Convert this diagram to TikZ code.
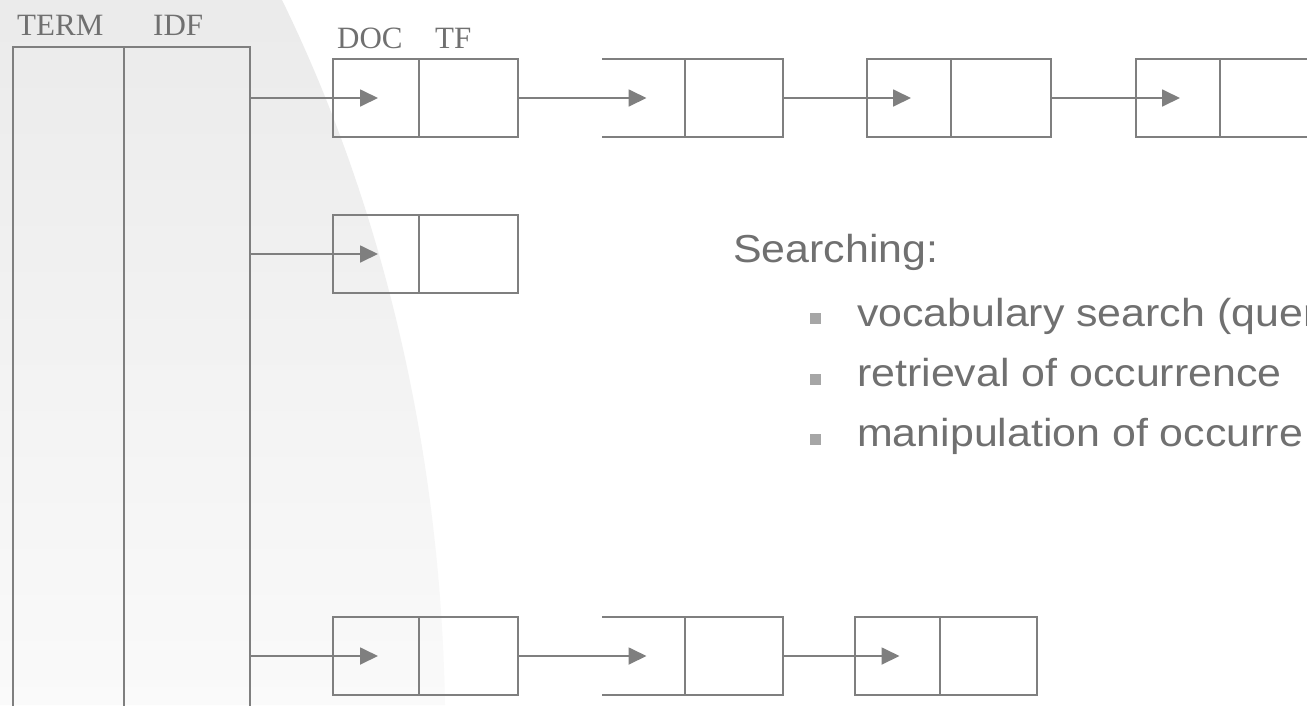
\documentclass[tikz,border=0pt]{standalone}
\usepackage{fontspec}
\usetikzlibrary{arrows.meta}
\newfontfamily\labelfont{Liberation Serif}
\newfontfamily\bodyfont[FakeStretch=1.1]{Liberation Sans}
\definecolor{linegray}{HTML}{7F7F7F}
\definecolor{textgray}{HTML}{707070}
\definecolor{bulletgray}{HTML}{A6A6A6}
\tikzset{
  cellbox/.style={draw=linegray, line width=1.8pt, minimum width=#1, minimum height=78pt,
    inner sep=0pt, outer sep=0pt, anchor=north west},
  openbox/.style={minimum width=#1, minimum height=78pt, inner sep=0pt, outer sep=0pt, anchor=north west},
  colbox/.style={draw=linegray, line width=1.8pt, minimum width=#1, minimum height=690pt,
    inner sep=0pt, outer sep=0pt, anchor=north west},
  edge/.style={draw=linegray, line width=1.8pt},
  arr/.style={draw=linegray, line width=1.8pt, -{Triangle[length=18pt,width=17pt]}},
  hdr/.style={anchor=base west, inner sep=0pt, text=textgray, font=\labelfont\fontsize{31}{36}\selectfont},
  body/.style={anchor=base west, inner sep=0pt, text=textgray, font=\bodyfont\fontsize{39}{44}\selectfont},
  bullet/.style={fill=bulletgray, minimum size=11pt, inner sep=0pt},
}
\begin{document}
\begin{tikzpicture}[x=1pt,y=-1pt]
\useasboundingbox (0,0) rectangle (1307,705);
\clip (0,0) rectangle (1307,705);
\fill[white] (0,0) rectangle (1307,705);
% background band
\shade[top color=black!8, bottom color=black!2]
  (0,0) -- (282,0) .. controls (370,180) and (440,420) .. (445,705) -- (0,705) -- cycle;

% headers
\node[hdr] (hterm) at (17,35) {TERM};
\node[hdr] (hidf) at (153,35) {IDF};
\node[hdr] (hdoc) at (337,48) {DOC};
\node[hdr] (htf) at (435,48) {TF};

% vocabulary table
\node[colbox=111pt] (term) at (13,47) {};
\node[colbox=126pt] (idf) at (124,47) {};

% row 1
\node[cellbox=86pt] (d11) at (333,59) {};
\node[cellbox=99pt] (t11) at (419,59) {};
\node[openbox=83pt] (d12) at (602,59) {};
\node[cellbox=98pt] (t12) at (685,59) {};
\node[cellbox=84pt] (d13) at (867,59) {};
\node[cellbox=100pt] (t13) at (951,59) {};
\node[cellbox=84pt] (d14) at (1136,59) {};
\node[cellbox=99pt] (t14) at (1220,59) {};
\draw[edge] (d12.north west) -- (d12.north east);
\draw[edge] (d12.south west) -- (d12.south east);

% row 2
\node[cellbox=86pt] (d21) at (333,215) {};
\node[cellbox=99pt] (t21) at (419,215) {};

% row 3
\node[cellbox=86pt] (d31) at (333,617) {};
\node[cellbox=99pt] (t31) at (419,617) {};
\node[openbox=83pt] (d32) at (602,617) {};
\node[cellbox=98pt] (t32) at (685,617) {};
\node[cellbox=85pt] (d33) at (855,617) {};
\node[cellbox=97pt] (t33) at (940,617) {};
\draw[edge] (d32.north west) -- (d32.north east);
\draw[edge] (d32.south west) -- (d32.south east);

% pointers
\draw[arr] (idf.east |- d11.center) -- ([xshift=2pt]d11.center);
\draw[arr] (t11.east) -- ([xshift=3pt]d12.center);
\draw[arr] (t12.east) -- ([xshift=2pt]d13.center);
\draw[arr] (t13.east) -- ([xshift=2pt]d14.center);
\draw[arr] (idf.east |- d21.center) -- ([xshift=2pt]d21.center);
\draw[arr] (idf.east |- d31.center) -- ([xshift=2pt]d31.center);
\draw[arr] (t31.east) -- ([xshift=3pt]d32.center);
\draw[arr] (t32.east) -- ([xshift=2pt]d33.center);

% text
\node[body] (search) at (733,262) {Searching:};
\node[bullet] (b1) at (815,318) {};
\node[body] (i1) at (857,326) {vocabulary search (quer};
\node[bullet] (b2) at (815,379) {};
\node[body] (i2) at (857,386) {retrieval of occurrence};
\node[bullet] (b3) at (815,439) {};
\node[body] (i3) at (857,446) {manipulation of occurre};
\end{tikzpicture}
\end{document}
